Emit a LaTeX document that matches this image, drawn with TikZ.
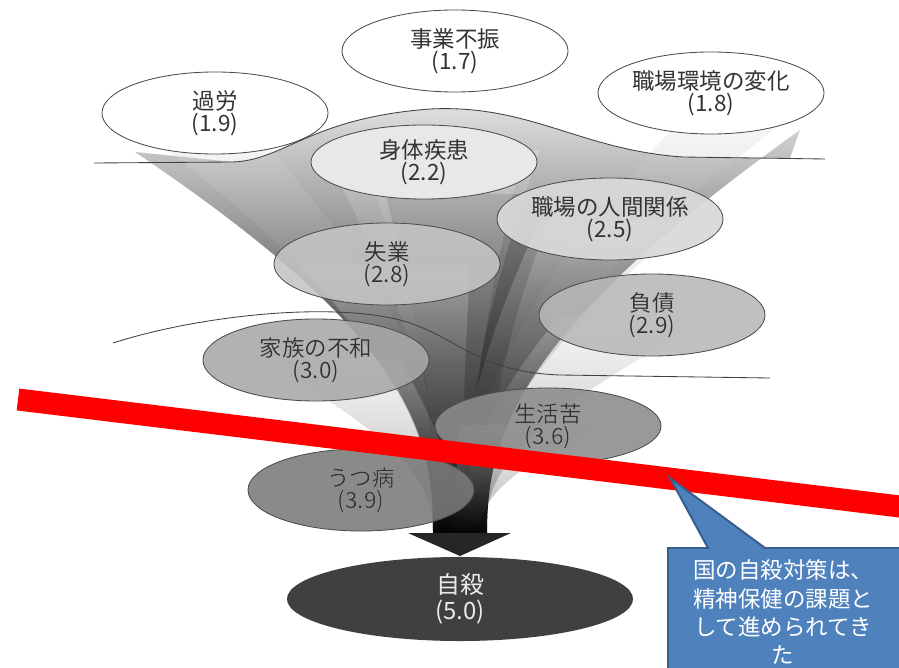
\documentclass[tikz,border=0pt]{standalone}
\usepackage{fontspec}
\setmainfont{Noto Sans CJK JP}
\usepackage[outline]{contour}
\contourlength{0.5pt}
\usetikzlibrary{shapes.geometric}

\definecolor{calloutfill}{HTML}{4F81BD}
\definecolor{calloutline}{HTML}{385D8A}
\newcommand{\halo}[2]{\contour{white}{#1}\\\contour{white}{#2}}
\tikzset{
  cause/.style={ellipse, draw=black!70, line width=0.6pt, minimum width=5.65cm, minimum height=2.05cm,
    inner sep=0pt, align=center, text=black!80, text opacity=1, font=\fontsize{16}{13.5}\selectfont},
  band/.style={top color=black!8, bottom color=black, fill opacity=0.3, draw=none},
  border/.style={draw=black!75, line width=0.6pt},
  redbar/.style={draw=red, line width=0.55cm},
  callout/.style={fill=calloutfill, draw=calloutline, line width=1.4pt},
}

\begin{document}
\begin{tikzpicture}[x=0.025cm, y=-0.025cm]
\clip (0,0) rectangle (899,668);
\fill[white] (0,0) rectangle (899,668);

% funnel base
\shade[top color=black!12, bottom color=black!95, middle color=black!62]
  (135,152) .. controls (418,342) and (433,438) .. (433,533) -- (487,533)
  .. controls (487,433) and (520,330) .. (800,130)
  -- (790,158) -- (683,157) .. controls (580,150) and (530,104) .. (430,109)
  .. controls (310,118) and (285,160) .. (233,162) -- cycle;

% dark core of the funnel
\shade[top color=black!48, bottom color=black!92, middle color=black!78]
  (385,192) .. controls (425,350) and (436,450) .. (436,533) -- (486,533)
  .. controls (486,450) and (500,330) .. (560,195) -- cycle;

% bands from each cause
\foreach \tl/\tr/\ty/\bl/\br in {135/250/125/433/450, 360/540/150/438/465, 330/520/165/440/470,
    690/800/110/468/487, 540/690/220/460/482, 300/470/265/436/462, 560/720/315/462/485,
    260/400/360/433/455, 460/600/425/455/480} {
  \pgfmathsetmacro{\cy}{\ty+(533-\ty)*0.5}
  \pgfmathsetmacro{\dy}{533-(533-\ty)*0.25}
  \pgfmathsetmacro{\cl}{\tl+(\bl-\tl)*0.9}
  \pgfmathsetmacro{\cr}{\tr+(\br-\tr)*0.9}
  \shade[band] (\tl,\ty) .. controls (\cl,\cy) and (\bl,\dy) .. (\bl,533) -- (\br,533)
    .. controls (\br,\dy) and (\cr,\cy) .. (\tr,\ty) -- cycle;
}

% arrow head
\fill[black!85] (408,533) -- (511,533) -- (460,556) -- cycle;

% causes
\node[cause, fill=white] (karo) at (215,113) {過労\\(1.9)};
\node[cause, fill=white] (jigyo) at (455,51) {事業不振\\(1.7)};
\node[cause, fill=white] (shokuba) at (711,93) {職場環境の変化\\(1.8)};
\node[cause, fill=black!9, minimum height=1.85cm] (shintai) at (424,162) {身体疾患\\(2.2)};
\node[cause, fill=black!15, fill opacity=0.92] (ningen) at (610,219) {職場の人間関係\\(2.5)};
\node[cause, fill=black!23, fill opacity=0.88] (shitsugyo) at (387,264) {\halo{失業}{(2.8)}};
\node[cause, fill=black!28, fill opacity=0.88] (fusai) at (652,315) {\halo{負債}{(2.9)}};
\node[cause, fill=black!34, fill opacity=0.88] (kazoku) at (316,360) {\halo{家族の不和}{(3.0)}};
\node[cause, fill=black!45, fill opacity=0.88, minimum height=1.9cm] (seikatsu) at (548,426) {\halo{生活苦}{(3.6)}};
\node[cause, fill=black!52, fill opacity=0.88] (utsu) at (361,490) {\halo{うつ病}{(3.9)}};
\node[cause, fill=black!75, draw=none, minimum width=8.65cm, minimum height=2.1cm, text=black!8,
  font=\fontsize{17}{18.5}\selectfont] (jisatsu) at (460,599) {自殺\\(5.0)};

% dividing curves
\draw[border] (94,163) -- (233,162) .. controls (285,160) and (310,118) .. (430,109)
  .. controls (530,104) and (580,150) .. (683,157) -- (825,159);
\draw[border] (113,343) .. controls (200,315) and (340,300) .. (410,323)
  .. controls (460,340) and (480,372) .. (560,375) -- (770,378);

% red bar
\draw[redbar] (18,399.5) -- (912,508);

% callout
\draw[callout] (668,548) -- (708,548) -- (670,478) -- (765,548) -- (910,548)
  -- (910,680) -- (668,680) -- cycle;
\node[text=white, align=center, font=\fontsize{16}{20}\selectfont] (note) at (783,612)
  {国の自殺対策は、\\精神保健の課題と\\して進められてき\\た};
\end{tikzpicture}
\end{document}
